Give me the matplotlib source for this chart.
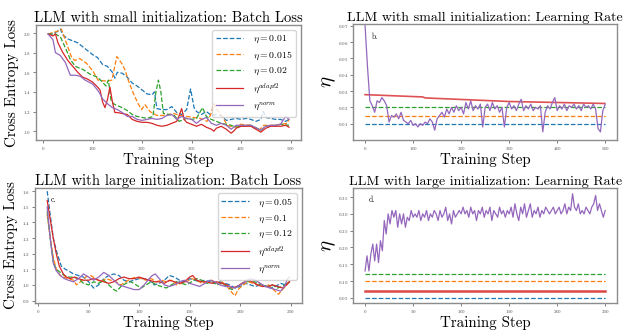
import numpy as np
import matplotlib
matplotlib.use("Agg")
import matplotlib.pyplot as plt

plt.rcParams['font.family'] = ['cmr10', 'DejaVu Serif']
plt.rcParams['mathtext.fontset'] = 'cm'
plt.rcParams['axes.formatter.use_mathtext'] = True
plt.rcParams['axes.unicode_minus'] = False

# ---- small init: batch loss (panel a) ----
a_blue_x = [10, 20, 30, 35, 40, 50, 60, 70, 80, 90, 100, 110, 120, 130, 140, 145, 150, 160, 170, 180,
            190, 200, 210, 220, 225, 230, 240, 250, 260, 270, 280, 290, 298, 305, 310, 320, 330, 340,
            350, 360, 370, 380, 390, 400, 410, 420, 430, 440, 445, 450, 460, 470, 480, 490, 497]
a_blue_y = [1.99, 1.99, 2.02, 2.04, 1.98, 1.94, 1.92, 1.90, 1.86, 1.82, 1.78, 1.75, 1.68, 1.66, 1.60,
            1.54, 1.60, 1.59, 1.55, 1.49, 1.46, 1.42, 1.38, 1.37, 1.40, 1.23, 1.22, 1.22, 1.25, 1.19,
            1.17, 1.22, 1.43, 1.24, 1.20, 1.17, 1.20, 1.16, 1.17, 1.16, 1.11, 1.12, 1.13, 1.12, 1.13,
            1.12, 1.10, 1.12, 1.20, 1.14, 1.13, 1.12, 1.12, 1.10, 1.12]
a_orange_x = [10, 30, 37, 47, 57, 64, 74, 88, 101, 111, 128, 139, 149, 159, 166, 172, 182, 192, 199,
              206, 216, 230, 243, 264, 277, 290, 317, 331, 338, 345, 351, 361, 372, 385, 399, 419,
              436, 446, 466, 480, 493, 497]
a_orange_y = [1.99, 2.02, 2.04, 1.90, 1.76, 1.72, 1.74, 1.69, 1.61, 1.52, 1.51, 1.52, 1.76, 1.69,
              1.62, 1.52, 1.39, 1.28, 1.22, 1.27, 1.20, 1.16, 1.16, 1.18, 1.16, 1.15, 1.13, 1.10,
              1.16, 1.28, 1.22, 1.16, 1.06, 1.04, 1.07, 1.06, 1.01, 1.06, 1.06, 1.07, 1.08, 1.12]
a_green_x = [10, 25, 35, 45, 55, 65, 80, 95, 110, 120, 127, 132, 137, 142, 150, 160, 170, 180, 190,
             200, 210, 222, 228, 233, 238, 243, 255, 265, 275, 290, 300, 310, 322, 330, 340, 350,
             360, 370, 380, 390, 400, 420, 440, 450, 470, 480, 497]
a_green_y = [1.99, 1.99, 1.96, 1.85, 1.73, 1.66, 1.63, 1.58, 1.55, 1.50, 1.46, 1.52, 1.32, 1.28,
             1.26, 1.24, 1.21, 1.17, 1.15, 1.14, 1.13, 1.15, 1.40, 1.52, 1.40, 1.18, 1.17, 1.16,
             1.10, 1.13, 1.12, 1.13, 1.24, 1.15, 1.12, 1.10, 1.08, 1.07, 1.06, 1.04, 1.05, 1.06,
             1.01, 1.05, 1.06, 1.07, 1.06]
a_red_x = [10, 20, 25, 30, 40, 50, 60, 70, 80, 90, 100, 110, 115, 120, 125, 130, 135, 140, 145,
           150, 160, 170, 180, 190, 200, 210, 220, 230, 240, 250, 260, 270, 275, 280, 285, 290,
           300, 310, 320, 330, 340, 345, 350, 360, 370, 380, 385, 390, 400, 420, 430, 440, 450,
           460, 470, 480, 490, 497]
a_red_y = [1.99, 1.97, 1.99, 1.90, 1.80, 1.72, 1.66, 1.60, 1.55, 1.53, 1.50, 1.45, 1.42, 1.30,
           1.24, 1.32, 1.45, 1.30, 1.19, 1.19, 1.18, 1.17, 1.12, 1.10, 1.09, 1.09, 1.08, 1.06,
           1.05, 1.06, 1.08, 1.10, 1.16, 1.23, 1.12, 1.09, 1.07, 1.05, 1.07, 1.04, 1.02, 1.00,
           1.03, 1.05, 1.02, 0.98, 1.00, 1.03, 1.05, 1.05, 1.02, 0.99, 1.03, 1.05, 1.05, 1.05,
           1.06, 1.04]
a_purple_x = [10, 20, 25, 35, 45, 55, 65, 75, 85, 100, 110, 115, 120, 130, 140, 150, 160, 170,
              180, 190, 200, 210, 220, 230, 240, 250, 260, 270, 280, 290, 300, 310, 320, 330,
              340, 350, 360, 370, 380, 390, 400, 420, 440, 450, 460, 470, 480, 490, 497]
a_purple_y = [1.99, 1.93, 1.80, 1.77, 1.70, 1.57, 1.57, 1.56, 1.52, 1.48, 1.42, 1.38, 1.33, 1.28,
              1.24, 1.22, 1.19, 1.15, 1.15, 1.12, 1.11, 1.12, 1.13, 1.12, 1.13, 1.16, 1.17, 1.12,
              1.15, 1.13, 1.12, 1.08, 1.12, 1.14, 1.08, 1.06, 1.08, 1.06, 1.02, 1.06, 1.06, 1.06,
              1.01, 1.05, 1.06, 1.06, 1.07, 1.15, 1.12]

# ---- small init: learning rate (panel b) ----
b_const = [0.01, 0.015, 0.02]
b_red_x = [0, 120, 125, 300, 499]
b_red_y = [0.0278, 0.0264, 0.0258, 0.0236, 0.0224]
b_norm_step = 5
b_norm = [0.070, 0.045, 0.024, 0.021, 0.017, 0.024, 0.023, 0.026, 0.024, 0.021, 0.011,
          0.015, 0.014, 0.016, 0.013, 0.017, 0.012, 0.011, 0.010, 0.012, 0.009,
          0.010, 0.008, 0.010, 0.009, 0.011, 0.010, 0.013, 0.011, 0.006, 0.013,
          0.015, 0.017, 0.014, 0.019, 0.016, 0.020, 0.017, 0.021, 0.018, 0.020,
          0.016, 0.023, 0.019, 0.024, 0.018, 0.021, 0.019, 0.022, 0.008, 0.020,
          0.022, 0.018, 0.023, 0.019, 0.021, 0.017, 0.020, 0.008, 0.020, 0.023,
          0.019, 0.021, 0.018, 0.022, 0.025, 0.018, 0.021, 0.019, 0.022, 0.018,
          0.020, 0.019, 0.021, 0.005, 0.017, 0.021, 0.019, 0.023, 0.026, 0.018,
          0.021, 0.019, 0.022, 0.018, 0.021, 0.020, 0.022, 0.019, 0.021, 0.018,
          0.022, 0.020, 0.021, 0.019, 0.022, 0.019, 0.007, 0.005, 0.018, 0.022]

# ---- large init: batch loss (panel c) ----
c_blue_x = [9, 12, 15, 18, 20, 23, 27, 30, 35, 40, 45, 50, 55, 60, 65, 70, 75, 80, 85, 90, 95,
            100, 105, 110, 115, 120, 125, 130, 135, 140, 145, 150, 155, 160, 165, 170, 175, 180,
            185, 190, 195, 200, 205, 210, 215, 220, 225, 230, 235, 240, 245, 249]
c_blue_y = [1.60, 1.45, 1.30, 1.22, 1.18, 1.12, 1.10, 1.09, 1.07, 1.06, 1.05, 1.02, 0.98, 1.00,
            1.04, 1.06, 1.07, 1.06, 1.03, 1.02, 1.03, 1.04, 1.04, 1.03, 1.00, 1.01, 1.03, 1.06,
            1.05, 1.03, 1.02, 1.04, 1.03, 1.02, 1.03, 1.02, 1.01, 1.02, 1.01, 1.00, 0.98, 0.99,
            1.01, 1.00, 0.99, 1.00, 0.99, 0.98, 0.99, 1.01, 1.00, 1.02]
c_orange_x = [9, 12, 15, 18, 22, 25, 30, 35, 38, 42, 47, 52, 57, 62, 67, 72, 77, 82, 87, 92, 97,
              102, 107, 112, 117, 122, 127, 132, 137, 142, 147, 152, 157, 162, 167, 172, 177,
              182, 187, 192, 195, 198, 203, 208, 213, 218, 223, 228, 233, 238, 242, 246, 249]
c_orange_y = [1.45, 1.30, 1.18, 1.10, 1.06, 1.05, 1.04, 1.03, 1.00, 1.02, 1.05, 1.06, 1.04, 1.02,
              1.04, 1.03, 1.02, 1.00, 1.02, 1.04, 1.05, 1.04, 1.03, 1.04, 1.02, 1.03, 1.02, 1.03,
              1.00, 1.01, 1.02, 1.04, 1.03, 1.01, 1.02, 1.03, 1.01, 1.02, 0.99, 0.95, 0.93, 0.97,
              1.00, 1.02, 1.01, 1.00, 0.99, 1.00, 0.97, 0.94, 0.97, 1.00, 1.03]
c_green_x = [9, 12, 15, 18, 22, 26, 30, 35, 40, 45, 50, 55, 60, 65, 70, 75, 78, 82, 87, 92, 97,
             102, 107, 112, 117, 122, 127, 132, 137, 142, 147, 152, 157, 162, 167, 172, 177, 182,
             187, 192, 197, 202, 207, 212, 217, 222, 227, 232, 237, 242, 246, 249]
c_green_y = [1.47, 1.30, 1.15, 1.10, 1.08, 1.06, 1.05, 1.05, 1.04, 1.01, 1.00, 1.02, 1.01, 1.03,
             1.00, 0.97, 0.96, 0.99, 1.01, 1.02, 1.00, 0.98, 1.00, 1.02, 1.00, 0.99, 0.98, 1.00,
             1.02, 1.01, 1.00, 1.02, 1.04, 1.03, 1.01, 1.02, 1.00, 1.01, 0.99, 0.97, 0.99, 1.01,
             1.02, 1.03, 1.01, 1.00, 0.99, 1.00, 0.98, 0.99, 1.01, 1.02]
c_red_x = [9, 12, 15, 18, 21, 25, 28, 32, 36, 40, 45, 50, 55, 60, 65, 70, 75, 80, 85, 90, 95,
           100, 105, 110, 115, 120, 125, 130, 135, 140, 145, 150, 153, 157, 162, 167, 172, 177,
           182, 187, 192, 197, 202, 207, 212, 217, 222, 227, 232, 237, 242, 246, 249]
c_red_y = [1.54, 1.42, 1.30, 1.20, 1.12, 1.07, 1.05, 1.04, 1.05, 1.04, 1.03, 1.03, 1.04, 1.03,
           1.02, 1.01, 1.02, 1.04, 1.05, 1.04, 1.04, 1.05, 1.04, 1.03, 1.02, 1.02, 1.01, 1.03,
           1.02, 1.01, 1.02, 1.05, 1.06, 1.03, 1.02, 1.02, 1.01, 1.02, 1.01, 1.00, 0.98, 0.99,
           1.01, 1.03, 1.02, 1.00, 0.99, 0.99, 1.00, 0.99, 0.98, 1.00, 1.02]
c_purple_x = [9, 12, 15, 18, 22, 26, 30, 35, 40, 45, 50, 55, 60, 65, 70, 75, 80, 85, 90, 95, 100,
              105, 110, 113, 116, 120, 125, 130, 135, 140, 145, 150, 155, 160, 165, 170, 175,
              180, 185, 190, 195, 200, 205, 210, 215, 220, 225, 230, 235, 240, 244, 247, 249]
c_purple_y = [1.50, 1.30, 1.14, 1.09, 1.06, 1.04, 1.03, 1.02, 1.04, 1.07, 1.05, 1.03, 1.05, 1.08,
              1.06, 1.03, 1.00, 0.99, 0.98, 0.97, 0.97, 1.00, 1.04, 1.06, 1.07, 1.04, 1.00, 0.99,
              1.00, 1.02, 1.03, 1.01, 1.00, 0.99, 1.01, 1.03, 1.02, 1.00, 0.99, 0.99, 0.98, 1.00,
              1.02, 1.04, 1.03, 1.01, 0.99, 0.98, 0.97, 0.96, 0.99, 1.04, 1.05]

# ---- large init: learning rate (panel d) ----
d_const = [0.05, 0.1, 0.12]
d_adapt = 0.07
d_norm_step = 2
d_norm = [0.13, 0.175, 0.13, 0.18, 0.21, 0.16, 0.21, 0.155, 0.22, 0.19, 0.28,
          0.24, 0.30, 0.27, 0.31, 0.29, 0.31, 0.26, 0.30, 0.27, 0.30, 0.26, 0.29, 0.28, 0.31, 0.29,
          0.30, 0.29, 0.31, 0.28, 0.30, 0.29, 0.31, 0.28, 0.30, 0.29, 0.31, 0.30, 0.28, 0.31, 0.29,
          0.30, 0.32, 0.28, 0.30, 0.27, 0.31, 0.29, 0.30, 0.31, 0.30,
          0.32, 0.30, 0.31, 0.29, 0.32, 0.30, 0.31, 0.28, 0.31, 0.30, 0.32, 0.29, 0.31, 0.30,
          0.32, 0.28, 0.31, 0.30, 0.29, 0.32, 0.30, 0.31, 0.29, 0.31, 0.30,
          0.32, 0.29, 0.33, 0.30, 0.28, 0.32, 0.30, 0.33, 0.29, 0.31, 0.33, 0.29, 0.31, 0.30,
          0.32, 0.29, 0.31, 0.30, 0.32, 0.31, 0.30, 0.31, 0.32, 0.30, 0.31,
          0.32, 0.30, 0.31, 0.33, 0.30, 0.32, 0.31, 0.36, 0.32, 0.31, 0.33, 0.30, 0.31, 0.30,
          0.32, 0.31, 0.30, 0.32, 0.33, 0.355, 0.31, 0.33, 0.31, 0.29, 0.31]

small_labels = [r'$\eta=0.01$', r'$\eta=0.015$', r'$\eta=0.02$', r'$\eta^{adapt2}$', r'$\eta^{norm}$']
large_labels = [r'$\eta=0.05$', r'$\eta=0.1$', r'$\eta=0.12$', r'$\eta^{adapt2}$', r'$\eta^{norm}$']
colors = ['tab:blue', 'tab:orange', 'tab:green', 'tab:red', 'tab:purple']

fig = plt.figure(figsize=(6.26, 3.31), dpi=100)
ax_a = fig.add_axes([0.0575, 0.577, 0.4235, 0.347])
ax_b = fig.add_axes([0.564, 0.577, 0.422, 0.350])
ax_c = fig.add_axes([0.056, 0.085, 0.426, 0.347])
ax_d = fig.add_axes([0.564, 0.085, 0.422, 0.347])


def style(ax, title, ylabel, pad=3, tsize=10.5):
    ax.set_title(title, fontsize=tsize, pad=2)
    ax.set_xlabel('Training Step', fontsize=10.8, labelpad=1)
    ax.set_ylabel(ylabel, fontsize=10.8, labelpad=pad)
    ax.tick_params(labelsize=3.5, length=2, width=0.5, pad=1.5, colors='0.3')
    for s in ax.spines.values():
        s.set_color('0.55')
        s.set_linewidth(1.0)


# panel a
for (x, y), c, lab in zip([(a_blue_x, a_blue_y), (a_orange_x, a_orange_y), (a_green_x, a_green_y)],
                          colors[:3], small_labels[:3]):
    ax_a.plot(x, y, '--', color=c, lw=0.9, label=lab)
ax_a.plot(a_red_x, a_red_y, color=colors[3], lw=0.9, label=small_labels[3])
ax_a.plot(a_purple_x, a_purple_y, color=colors[4], lw=0.9, label=small_labels[4])
ax_a.set_ylim(0.91, 2.08)
ax_a.set_xticks([0, 100, 200, 300, 400, 500])
ax_a.set_yticks([1.0, 1.2, 1.4, 1.6, 1.8, 2.0])
style(ax_a, 'LLM with small initialization: Batch Loss', 'Cross Entropy Loss')
ax_a.legend(loc='upper right', fontsize=7, handlelength=2.8, labelspacing=0.45,
            borderpad=0.4, handletextpad=1.0, framealpha=0.8)

# panel b
b_x = np.arange(len(b_norm)) * b_norm_step
for v, c in zip(b_const, colors[:3]):
    ax_b.plot([b_x[0], b_x[-1]], [v, v], '--', color=c, lw=0.9)
ax_b.plot(b_red_x, b_red_y, color=colors[3], lw=1.2, alpha=0.8)
ax_b.plot(b_x, b_norm, color=colors[4], lw=0.9)
ax_b.set_ylim(0.0, 0.071)
ax_b.set_xticks([0, 100, 200, 300, 400, 500])
ax_b.set_yticks([0.01, 0.02, 0.03, 0.04, 0.05, 0.06, 0.07])
style(ax_b, 'LLM with small initialization: Learning Rate', r'$\eta$', pad=0, tsize=10.1)
ax_b.yaxis.label.set_size(15)
ax_b.text(0.07, 0.93, 'b.', transform=ax_b.transAxes, fontsize=5.5, va='top')

# panel c
for (x, y), c, lab in zip([(c_blue_x, c_blue_y), (c_orange_x, c_orange_y), (c_green_x, c_green_y)],
                          colors[:3], large_labels[:3]):
    ax_c.plot(x, y, '--', color=c, lw=0.9, label=lab)
ax_c.plot(c_red_x, c_red_y, color=colors[3], lw=0.9, label=large_labels[3])
ax_c.plot(c_purple_x, c_purple_y, color=colors[4], lw=0.9, label=large_labels[4])
ax_c.set_ylim(0.885, 1.62)
ax_c.set_xticks([0, 50, 100, 150, 200, 250])
ax_c.set_yticks([0.9, 1.0, 1.1, 1.2, 1.3, 1.4, 1.5, 1.6])
style(ax_c, 'LLM with large initialization: Batch Loss', 'Cross Entropy Loss')
ax_c.legend(loc='upper right', fontsize=7, handlelength=2.8, labelspacing=0.45,
            borderpad=0.4, handletextpad=1.0, framealpha=0.8)
ax_c.text(0.06, 0.93, 'c.', transform=ax_c.transAxes, fontsize=5.5, va='top')

# panel d
d_x = np.arange(len(d_norm)) * d_norm_step
for v, c in zip(d_const, colors[:3]):
    ax_d.plot([d_x[0], d_x[-1]], [v, v], '--', color=c, lw=0.9)
ax_d.plot([d_x[0], d_x[-1]], [d_adapt, d_adapt], color=colors[3], lw=1.8, alpha=0.85)
ax_d.plot(d_x, d_norm, color=colors[4], lw=0.9)
ax_d.set_ylim(0.035, 0.377)
ax_d.set_xticks([0, 50, 100, 150, 200, 250])
ax_d.set_yticks([0.05, 0.10, 0.15, 0.20, 0.25, 0.30, 0.35])
style(ax_d, 'LLM with large initialization: Learning Rate', r'$\eta$', pad=0, tsize=10.1)
ax_d.yaxis.label.set_size(15)
ax_d.text(0.06, 0.93, 'd.', transform=ax_d.transAxes, fontsize=5.5, va='top')

fig.savefig('out.png', dpi=100)
